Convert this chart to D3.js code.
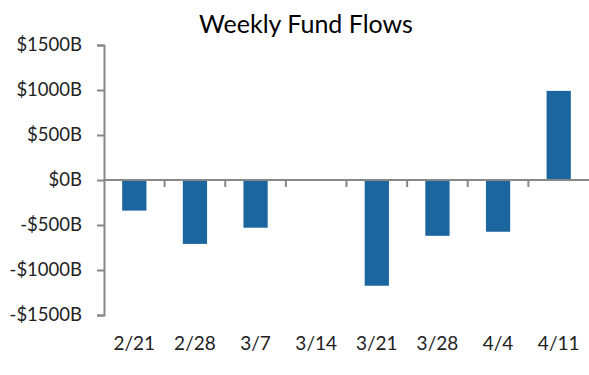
<!DOCTYPE html>
<html>
<head>
<meta charset="utf-8">
<script src="https://cdn.jsdelivr.net/npm/d3@7"></script>
<style>
  html, body { margin: 0; padding: 0; background: #fff; }
  svg { display: block; }
</style>
</head>
<body>
<svg id="chart" width="589" height="375"></svg>
<script>
const title = "Weekly Fund Flows";
const categories = ["2/21", "2/28", "3/7", "3/14", "3/21", "3/28", "4/4", "4/11"];
const flows = [-340, -710, -530, 10, -1175, -620, -575, 990];
const yTicks = [-1500, -1000, -500, 0, 500, 1000, 1500];

const svg = d3.select("#chart");
const plotLeft = 104, plotRight = 589, plotTop = 45, plotBottom = 315;
const font = "Lato, 'Open Sans', sans-serif";
const axisColor = "#888888";
const barColor = "#1b669e";

const x = d3.scaleBand().domain(categories).range([plotLeft, plotRight])
  .paddingInner(0.6).paddingOuter(0.3);
const y = d3.scaleLinear().domain([-1500, 1500]).range([plotBottom, plotTop]);

// Title
svg.append("text")
  .attr("x", 306).attr("y", 33)
  .attr("text-anchor", "middle")
  .attr("font-family", font)
  .attr("font-size", 25)
  .attr("fill", "#000")
  .text(title);

// Bars
svg.append("g").selectAll("rect").data(categories).join("rect")
  .attr("x", d => x(d))
  .attr("width", x.bandwidth())
  .attr("y", (d, i) => Math.min(y(flows[i]), y(0)))
  .attr("height", (d, i) => Math.abs(y(flows[i]) - y(0)))
  .attr("fill", barColor);

// Y axis
const yAxis = d3.axisLeft(y).tickValues(yTicks).tickSize(7).tickPadding(15)
  .tickFormat(d => (d < 0 ? "-$" : "$") + Math.abs(d) + "B");
const gy = svg.append("g").attr("transform", `translate(${plotLeft},0)`).call(yAxis);
gy.select(".domain").attr("stroke", axisColor).attr("stroke-width", 2);
gy.selectAll(".tick line").attr("stroke", axisColor).attr("stroke-width", 2);
gy.selectAll(".tick text").attr("font-family", font).attr("font-size", 18.5)
  .attr("fill", "#222");

// X axis along zero line
const step = x.step();
const gx = svg.append("g").attr("transform", `translate(0,${y(0)})`);
gx.append("line").attr("x1", plotLeft).attr("x2", plotRight).attr("y1", 0).attr("y2", 0)
  .attr("stroke", axisColor).attr("stroke-width", 2);
gx.selectAll("line.tk").data(categories.slice(0, -1)).join("line")
  .attr("class", "tk")
  .attr("x1", d => x(d) + x.bandwidth() / 2 + step / 2)
  .attr("x2", d => x(d) + x.bandwidth() / 2 + step / 2)
  .attr("y1", 0).attr("y2", 7)
  .attr("stroke", axisColor).attr("stroke-width", 2);

// X labels at bottom
svg.append("g").selectAll("text").data(categories).join("text")
  .attr("x", d => x(d) + x.bandwidth() / 2)
  .attr("y", 350)
  .attr("text-anchor", "middle")
  .attr("font-family", font)
  .attr("font-size", 19)
  .attr("fill", "#222")
  .text(d => d);
</script>
</body>
</html>
